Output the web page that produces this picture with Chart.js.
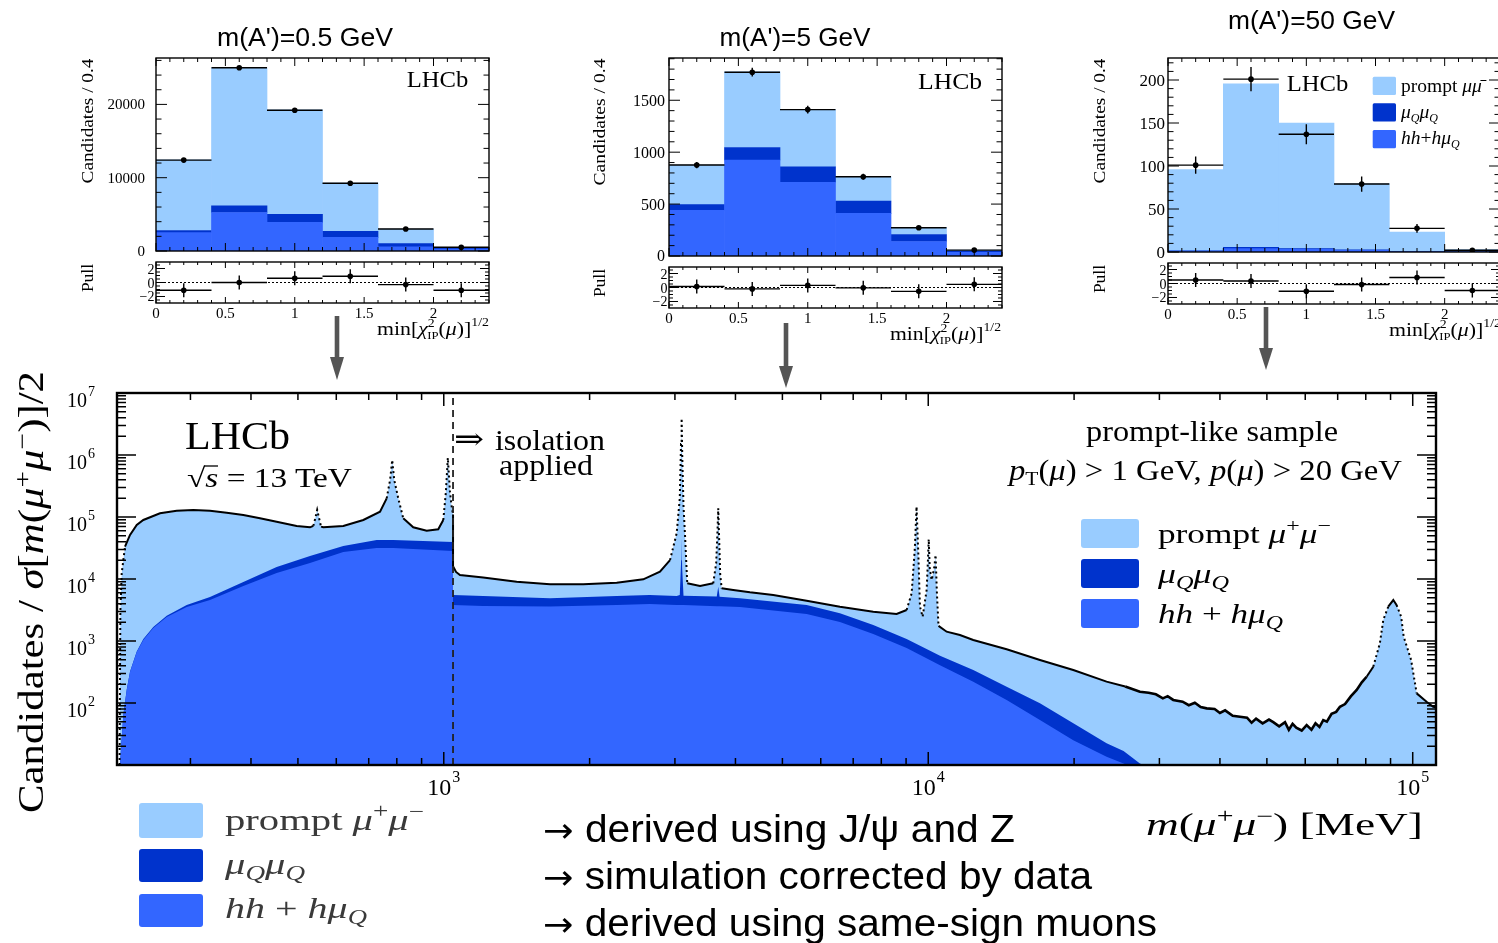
<!DOCTYPE html>
<html>
<head>
<meta charset="utf-8">
<script src="https://cdn.jsdelivr.net/npm/chart.js@4.4.1/dist/chart.umd.min.js"></script>
<style>
html,body{margin:0;padding:0;background:#fff;}
body{position:relative;width:1498px;height:943px;overflow:hidden;}
canvas{position:absolute;}
#ov{position:absolute;left:0;top:0;z-index:5;}
</style>
</head>
<body>
<svg id="ov" width="1498" height="943" xmlns="http://www.w3.org/2000/svg" font-family="Liberation Serif, DejaVu Serif, serif" fill="#000">
  <!-- panel titles -->
  <g font-family="Liberation Sans, Arial, sans-serif" font-size="25" text-anchor="middle">
    <text x="305" y="46" textLength="176" lengthAdjust="spacingAndGlyphs">m(A')=0.5 GeV</text>
    <text x="795" y="46" textLength="151" lengthAdjust="spacingAndGlyphs">m(A')=5 GeV</text>
    <text x="1311.5" y="29" textLength="167" lengthAdjust="spacingAndGlyphs">m(A')=50 GeV</text>
  </g>
  <!-- LHCb labels in panels -->
  <text x="406.7" y="86.7" font-size="24" textLength="61.5" lengthAdjust="spacingAndGlyphs">LHCb</text>
  <text x="918" y="89" font-size="24" textLength="64" lengthAdjust="spacingAndGlyphs">LHCb</text>
  <text x="1286.7" y="90.7" font-size="24" textLength="61.6" lengthAdjust="spacingAndGlyphs">LHCb</text>
  <!-- panel y titles -->
  <g font-size="17.5" text-anchor="middle">
    <text transform="translate(93,121) rotate(-90)" textLength="125" lengthAdjust="spacingAndGlyphs">Candidates / 0.4</text>
    <text transform="translate(605,122) rotate(-90)" textLength="127" lengthAdjust="spacingAndGlyphs">Candidates / 0.4</text>
    <text transform="translate(1105,121) rotate(-90)" textLength="125" lengthAdjust="spacingAndGlyphs">Candidates / 0.4</text>
    <text transform="translate(93,278) rotate(-90)">Pull</text>
    <text transform="translate(605,283) rotate(-90)">Pull</text>
    <text transform="translate(1105,279) rotate(-90)">Pull</text>
  </g>
  <!-- panel x titles -->
  <g font-size="19">
    <text x="377" y="335" textLength="112" lengthAdjust="spacingAndGlyphs">min[<tspan font-style="italic">χ</tspan><tspan font-size="12" dy="-8">2</tspan><tspan font-size="11" dx="-6.5" dy="12">IP</tspan><tspan dy="-4">(</tspan><tspan font-style="italic">μ</tspan>)]<tspan font-size="12" dy="-9">1/2</tspan></text>
    <text x="890" y="340" textLength="111" lengthAdjust="spacingAndGlyphs">min[<tspan font-style="italic">χ</tspan><tspan font-size="12" dy="-8">2</tspan><tspan font-size="11" dx="-6.5" dy="12">IP</tspan><tspan dy="-4">(</tspan><tspan font-style="italic">μ</tspan>)]<tspan font-size="12" dy="-9">1/2</tspan></text>
    <text x="1389" y="336" textLength="112" lengthAdjust="spacingAndGlyphs">min[<tspan font-style="italic">χ</tspan><tspan font-size="12" dy="-8">2</tspan><tspan font-size="11" dx="-6.5" dy="12">IP</tspan><tspan dy="-4">(</tspan><tspan font-style="italic">μ</tspan>)]<tspan font-size="12" dy="-9">1/2</tspan></text>
  </g>
  <!-- panel 3 legend -->
  <rect x="1372.7" y="76.7" width="23.3" height="18.3" rx="1.5" fill="#99ccff"/>
  <rect x="1372.7" y="103.3" width="23.3" height="18.3" rx="1.5" fill="#0033cc"/>
  <rect x="1372.7" y="130" width="23.3" height="18.3" rx="1.5" fill="#3366ff"/>
  <g font-size="19.5">
    <text x="1401" y="92">prompt <tspan font-style="italic">μμ̄</tspan></text>
    <text x="1401" y="118"><tspan font-style="italic">μ</tspan><tspan font-style="italic" font-size="12" dy="4">Q</tspan><tspan font-style="italic" dy="-4">μ</tspan><tspan font-style="italic" font-size="12" dy="4">Q</tspan></text>
    <text x="1401" y="144"><tspan font-style="italic">hh</tspan>+<tspan font-style="italic">hμ</tspan><tspan font-style="italic" font-size="12" dy="4">Q</tspan></text>
  </g>
  <!-- arrows -->
  <g fill="#555">
    <rect x="334.7" y="316" width="4.6" height="42"/><polygon points="330,357 344,357 337,380"/>
    <rect x="783.7" y="323" width="4.6" height="44"/><polygon points="779,366 793,366 786,388"/>
    <rect x="1263.7" y="307" width="4.6" height="42"/><polygon points="1259,348 1273,348 1266,370"/>
  </g>
  <!-- main plot texts -->
  <text x="185" y="449" font-size="40" textLength="105" lengthAdjust="spacingAndGlyphs">LHCb</text>
  <text x="187" y="487" font-size="27" textLength="165" lengthAdjust="spacingAndGlyphs">√<tspan font-style="italic">s</tspan> = 13 TeV</text>
  <line x1="204" y1="466" x2="218" y2="466" stroke="#000" stroke-width="1.3"/>
  <text x="454" y="449" font-size="30" font-family="DejaVu Serif, serif" textLength="30" lengthAdjust="spacingAndGlyphs">⇒</text>
  <text x="495" y="450" font-size="30" textLength="110" lengthAdjust="spacingAndGlyphs">isolation</text>
  <text x="499" y="475" font-size="30" textLength="94" lengthAdjust="spacingAndGlyphs">applied</text>
  <text x="1086" y="441" font-size="29" textLength="252" lengthAdjust="spacingAndGlyphs">prompt-like sample</text>
  <text x="1009" y="480" font-size="29" textLength="393" lengthAdjust="spacingAndGlyphs"><tspan font-style="italic">p</tspan><tspan font-size="19" dy="5">T</tspan><tspan dy="-5">(</tspan><tspan font-style="italic">μ</tspan>) &gt; 1 GeV, <tspan font-style="italic">p</tspan>(<tspan font-style="italic">μ</tspan>) &gt; 20 GeV</text>
  <!-- main legend -->
  <rect x="1081" y="519" width="58" height="29" rx="3" fill="#99ccff"/>
  <rect x="1081" y="559" width="58" height="29" rx="3" fill="#0033cc"/>
  <rect x="1081" y="599" width="58" height="29" rx="3" fill="#3366ff"/>
  <g font-size="28">
    <text x="1158" y="543" textLength="173" lengthAdjust="spacingAndGlyphs">prompt <tspan font-style="italic">μ</tspan><tspan font-size="19" dy="-11">+</tspan><tspan font-style="italic" dy="11">μ</tspan><tspan font-size="19" dy="-11">−</tspan></text>
    <text x="1158" y="583" textLength="71" lengthAdjust="spacingAndGlyphs"><tspan font-style="italic">μ</tspan><tspan font-style="italic" font-size="19" dy="6">Q</tspan><tspan font-style="italic" dy="-6">μ</tspan><tspan font-style="italic" font-size="19" dy="6">Q</tspan></text>
    <text x="1158" y="623" textLength="125" lengthAdjust="spacingAndGlyphs"><tspan font-style="italic">hh</tspan> + <tspan font-style="italic">hμ</tspan><tspan font-style="italic" font-size="19" dy="6">Q</tspan></text>
  </g>
  <!-- main axis titles -->
  <text transform="translate(43,592) rotate(-90)" text-anchor="middle" font-size="35" textLength="442" lengthAdjust="spacingAndGlyphs">Candidates / <tspan font-style="italic">σ</tspan>[<tspan font-style="italic">m</tspan>(<tspan font-style="italic">μ</tspan><tspan font-size="24" dy="-13">+</tspan><tspan font-style="italic" dy="13">μ</tspan><tspan font-size="24" dy="-13">−</tspan><tspan dy="13">)]/2</tspan></text>
  <text x="1146" y="835" font-size="32" textLength="277" lengthAdjust="spacingAndGlyphs"><tspan font-style="italic">m</tspan>(<tspan font-style="italic">μ</tspan><tspan font-size="21" dy="-12">+</tspan><tspan font-style="italic" dy="12">μ</tspan><tspan font-size="21" dy="-12">−</tspan><tspan dy="12">)  [MeV]</tspan></text>
  <!-- bottom legend -->
  <rect x="139" y="803" width="64" height="35" rx="3" fill="#99ccff"/>
  <rect x="139" y="849" width="64" height="33" rx="3" fill="#0033cc"/>
  <rect x="139" y="894" width="64" height="33" rx="3" fill="#3366ff"/>
  <g font-size="30" fill="#3a3a3a">
    <text x="225" y="830" textLength="199" lengthAdjust="spacingAndGlyphs">prompt <tspan font-style="italic">μ</tspan><tspan font-size="20" dy="-12">+</tspan><tspan font-style="italic" dy="12">μ</tspan><tspan font-size="20" dy="-12">−</tspan></text>
    <text x="225" y="874" textLength="80" lengthAdjust="spacingAndGlyphs"><tspan font-style="italic">μ</tspan><tspan font-style="italic" font-size="20" dy="6">Q</tspan><tspan font-style="italic" dy="-6">μ</tspan><tspan font-style="italic" font-size="20" dy="6">Q</tspan></text>
    <text x="225" y="918" textLength="142" lengthAdjust="spacingAndGlyphs"><tspan font-style="italic">hh</tspan> + <tspan font-style="italic">hμ</tspan><tspan font-style="italic" font-size="20" dy="6">Q</tspan></text>
  </g>
  <!-- annotations -->
  <g font-family="Liberation Sans, Arial, sans-serif" font-size="38">
    <text x="543" y="842" textLength="472" lengthAdjust="spacingAndGlyphs"><tspan font-family="DejaVu Sans, sans-serif" font-size="34">→</tspan> derived using J/ψ and Z</text>
    <text x="543" y="889" textLength="549" lengthAdjust="spacingAndGlyphs"><tspan font-family="DejaVu Sans, sans-serif" font-size="34">→</tspan> simulation corrected by data</text>
    <text x="543" y="936" textLength="614" lengthAdjust="spacingAndGlyphs"><tspan font-family="DejaVu Sans, sans-serif" font-size="34">→</tspan> derived using same-sign muons</text>
  </g>
</svg>
<script>
// ================= DATA =================
// top panels: bins of min[chi2_IP(mu)]^1/2, width 0.4
const binCenters = [0.2, 0.6, 1.0, 1.4, 1.8, 2.2];
const binHalfWidth = 0.2;

// m(A') = 0.5 GeV
const p05_hh     = [2500, 5250, 3900, 1850, 560, 250];
const p05_muQ    = [300, 900, 1100, 850, 450, 100];
const p05_prompt = [9650, 18850, 14250, 6550, 1990, 150];
const p05_data   = [12400, 25000, 19200, 9250, 3000, 520];
const p05_err    = [111, 158, 139, 96, 55, 23];
const p05_pull   = [-1.1, 0.0, 0.6, 0.9, -0.3, -1.1];

// m(A') = 5 GeV
const p5_hh     = [440, 925, 710, 410, 140, 35];
const p5_muQ    = [55, 120, 150, 120, 67, 12];
const p5_prompt = [380, 730, 550, 235, 68, 10];
const p5_data   = [876, 1770, 1410, 763, 272, 57];
const p5_err    = [30, 42, 38, 28, 16, 7.5];
const p5_pull   = [0.15, -0.2, 0.3, -0.05, -0.55, 0.45];

// m(A') = 50 GeV
const p50_hh     = [1, 4, 3, 2, 0.5, 0.3];
const p50_muQ    = [0.3, 1.5, 1, 0.5, 0.2, 0.1];
const p50_prompt = [94.4, 190.2, 146, 76.9, 22.6, 2.3];
const p50_data   = [101, 201, 137, 79, 27.5, 2];
const p50_err    = [10, 14.2, 11.7, 8.9, 5.2, 1.4];
const p50_pull   = [0.5, 0.35, -1.1, -0.15, 0.85, -1.0];

// tick labels
const chiTicks = [0, 0.5, 1, 1.5, 2];
const chiTickLabels = ['0', '0.5', '1', '1.5', '2'];
const pullTicks = [-2, 0, 2];
const pullTickLabels = ['\u22122', '0', '2'];
const p05_yTicks = [0, 10000, 20000];
const p5_yTicks = [0, 500, 1000, 1500];
const p50_yTicks = [0, 50, 100, 150, 200];
const massTicks = [1e3, 1e4, 1e5];
const massTickExp = ['3', '4', '5'];
const countTicks = [1e2, 1e3, 1e4, 1e5, 1e6, 1e7];
const countTickExp = ['2', '3', '4', '5', '6', '7'];

// main plot: observed m(mu+mu-) spectrum [MeV, candidates]
const observed = [
  [214.2,10],[215.0,3000],[216.4,12400],[219.8,33200],[225.1,51300],[232.4,74300],[239.8,89500],
  [259.6,115000],[281.0,126000],[304.1,130000],[329.2,126000],[356.4,117000],[385.7,108000],
  [417.5,95200],[451.9,84000],[497.0,71600],[529.5,68200],[538,72000],[543,95000],[547.9,130000],
  [553,95000],[558,70000],[564.1,68200],[620.3,71600],[682.3,89500],[738.6,121600],[762.4,200000],
  [775,400000],[782.7,830000],[790,400000],[805.5,200000],[824.8,95200],[865.0,68200],[922.0,60100],
  [974.1,63400],[997.7,89500],[1010,250000],[1019.5,900000],[1030,250000],[1038.3,147000],[1045,110000],
  [1045,16000],[1060,13000],[1080,11600],[1206,10600],[1414,9040],[1657,8220],[1941,8220],[2275,8720],
  [2581,9880],[2794,13100],[2931,20200],[3025,54600],[3070,200000],[3088,1500000],[3097,3900000],
  [3106,1000000],[3125,150000],[3146,55200],[3181,8530],[3380,7710],[3599,8530],[3650,18000],
  [3673,60000],[3686,138000],[3700,50000],[3720,12000],[3746,7080],[3958,6650],[4285,6100],
  [4787,5520],[5611,4467],[6572,3573],[7700,2970],[8604,2725],[9024,3162],[9241,5880],[9380,30000],
  [9460,146600],[9540,25000],[9614,3573],[9737,2466],[9924,6650],[9985,20000],[10023,43600],
  [10070,15000],[10163,9630],[10290,15000],[10355,24400],[10420,6000],[10500,1750],[10914,1413],
  [11626,1250],[12386,1038],[14516,734],[17004,494],[19925,340],[23340,221],[25500,185],[27350,152],
  [28500,146],[29500,138],[30500,119],[31200,129],[32040,112],[33500,105],[34500,92],[35500,101],
  [36500,86],[37560,82],[39000,80],[40000,69],[41000,76],[42500,62],[44000,60],[45500,58],[46500,48],
  [47500,56],[49000,47],[50500,54],[51540,49],[53000,42],[54500,49],[55500,37],[56500,46],[57500,40],
  [59000,36],[60400,44],[61800,37],[63000,47],[64200,41],[65360,53],[66500,50],[68000,67],[69500,72],
  [70760,87],[72500,96],[74500,128],[76620,162],[78500,215],[80320,265],
  [82900,385],[85540,918],[86940,2180],[89010,3573],[91188,4580],[92600,3810],[94650,2470],
  [95800,1172],[99240,494],[101900,143],[106800,105],[110200,87],[111700,85]
];
// background components on a common mass grid [MeV]
const bkgMass = [212, 214.7, 216.2, 218.1, 221.6, 225.1, 232.4, 239.8, 251.4, 268.0,
  294.7, 329.2, 385.7, 451.9, 529.5, 620.3, 726.9, 786.8, 1045, 1045,
  1206, 1657, 2275, 2660, 3025, 3070, 3090, 3097, 3105, 3125,
  3660, 3686, 3710, 4087, 5611, 6572, 7700, 9024, 10575, 12386,
  14516, 17004, 19925, 23340, 25300, 27350, 30200, 35000];
const hhCounts = [1, 10, 25, 64, 162, 316, 665, 1040, 1620, 2440,
  3530, 4580, 7710, 12500, 18100, 27200, 31600, 31600, 28300, 3810,
  3670, 3600, 3810, 3950, 3810, 3810, 3800, 3800, 3800, 3790,
  3650, 3640, 3630, 3530, 2725, 2020, 1300, 771, 405, 221,
  112, 53, 25, 13.6, 10.6, 8, 5, 2];
const muQCounts = [0, 0.3, 0.5, 1, 3, 6, 12, 40, 60, 120,
  280, 540, 1230, 3140, 5360, 6840, 10960, 10960, 11210, 1710,
  1650, 1300, 1510, 1570, 1510, 1690, 16190, 44190, 11190, 1590,
  1550, 3850, 1560, 1370, 1083, 793, 513, 306, 175, 119,
  71, 46, 22, 8.8, 6.2, 2.6, 2.5, 1];
const isolationCut = 1045; // MeV

// ================= STYLE =================
const C_LIGHT = '#99ccff', C_DARK = '#0033cc', C_MED = '#3366ff';
const SERIF = "'Liberation Serif','DejaVu Serif',serif";

function minorRange(lo, hi, step, skip) {
  const out = [];
  const n = Math.round((hi - lo) / step);
  for (let i = 0; i <= n; i++) {
    const v = +(lo + i * step).toFixed(6);
    if (!skip.some(s => Math.abs(s - v) < 1e-9)) out.push(v);
  }
  return out;
}
function logMinor(lo, hi) {
  const out = [];
  for (let e = Math.floor(Math.log10(lo)); e <= Math.ceil(Math.log10(hi)); e++)
    for (let k = 2; k <= 9; k++) { const v = k * Math.pow(10, e); if (v >= lo && v <= hi) out.push(v); }
  return out;
}

const errPlugin = {
  id: 'errBars',
  afterDatasetsDraw(chart) {
    const {ctx} = chart; const sx = chart.scales.x, sy = chart.scales.y;
    chart.data.datasets.forEach((ds) => {
      if (!ds.errY) return;
      ctx.save();
      ctx.strokeStyle = '#000'; ctx.lineWidth = ds.errWidth || 1.4;
      ctx.beginPath();
      ds.data.forEach((pt, j) => {
        const px = sx.getPixelForValue(pt.x), py = sy.getPixelForValue(pt.y);
        const xl = sx.getPixelForValue(pt.x - ds.errX), xr = sx.getPixelForValue(pt.x + ds.errX);
        const yt = sy.getPixelForValue(pt.y + ds.errY[j]), yb = sy.getPixelForValue(pt.y - ds.errY[j]);
        ctx.moveTo(xl, py); ctx.lineTo(xr, py);
        ctx.moveTo(px, yt); ctx.lineTo(px, yb);
      });
      ctx.stroke();
      ctx.restore();
    });
  }
};

const framePlugin = {
  id: 'frameTicks',
  afterDatasetsDraw(chart, args, o) {
    if (!o || !o.enabled) return;
    const {ctx, chartArea: a} = chart;
    ctx.save();
    ctx.strokeStyle = '#000'; ctx.fillStyle = '#000';
    const doAxis = (ax, scale, horiz) => {
      if (!ax) return;
      ctx.lineWidth = ax.tickWidth || 1;
      const list = ax.major.map(v => [v, ax.majorLen]).concat((ax.minor || []).map(v => [v, ax.minorLen]));
      ctx.beginPath();
      for (const [v, len] of list) {
        const p = scale.getPixelForValue(v);
        if (horiz) {
          if (p < a.left - 0.5 || p > a.right + 0.5) continue;
          ctx.moveTo(p, a.bottom); ctx.lineTo(p, a.bottom - len);
          ctx.moveTo(p, a.top); ctx.lineTo(p, a.top + len);
        } else {
          if (p < a.top - 0.5 || p > a.bottom + 0.5) continue;
          ctx.moveTo(a.left, p); ctx.lineTo(a.left + len, p);
          ctx.moveTo(a.right, p); ctx.lineTo(a.right - len, p);
        }
      }
      ctx.stroke();
      if (ax.labels) {
        ctx.textBaseline = 'alphabetic'; ctx.textAlign = 'left';
        for (const lb of ax.labels) {
          const p = scale.getPixelForValue(lb.v);
          ctx.font = ax.font;
          const w1 = ctx.measureText(lb.t).width;
          let w2 = 0;
          if (lb.s) { ctx.font = ax.supFont; w2 = ctx.measureText(lb.s).width + 1; }
          const tw = w1 + w2;
          let x0, y0;
          if (horiz) { x0 = p - tw / 2 + (ax.dx || 0); y0 = a.bottom + ax.dy; }
          else { x0 = a.left - ax.off - tw; y0 = p + ax.dy; }
          ctx.font = ax.font; ctx.fillText(lb.t, x0, y0);
          if (lb.s) { ctx.font = ax.supFont; ctx.fillText(lb.s, x0 + w1 + 1, y0 - ax.supRaise); }
        }
      }
    };
    doAxis(o.x, chart.scales.x, true);
    doAxis(o.y, chart.scales.y, false);
    ctx.lineWidth = o.frameWidth || 1.5;
    ctx.strokeRect(a.left, a.top, a.right - a.left, a.bottom - a.top);
    ctx.restore();
  }
};

const M = 70;
function mkCanvas(r) {
  const L = Math.round(r.L), T = Math.round(r.T), R = Math.round(r.R), B = Math.round(r.B);
  const c = document.createElement('canvas');
  const w = R - L + 2 * M, h = B - T + 2 * M;
  c.width = w; c.height = h;
  c.style.left = (L - M) + 'px'; c.style.top = (T - M) + 'px';
  c.style.width = w + 'px'; c.style.height = h + 'px';
  document.body.insertBefore(c, document.getElementById('ov'));
  return c;
}
const baseOpts = () => ({
  responsive: false, animation: false, events: [],
  layout: {padding: M},
  plugins: {legend: {display: false}, tooltip: {enabled: false}, title: {display: false}}
});
const pts = arr => binCenters.map((x, i) => ({x, y: arr[i]}));

function histPanel(area, p) {
  const opts = baseOpts();
  opts.scales = {
    x: {type: 'linear', min: 0, max: 2.4, offset: false, stacked: true, display: false},
    y: {type: 'linear', min: 0, max: p.yMax, stacked: true, display: false}
  };
  opts.plugins.frameTicks = {
    enabled: true, frameWidth: 1.4,
    x: {major: chiTicks, minor: minorRange(0, 2.4, 0.1, chiTicks), majorLen: 8, minorLen: 4},
    y: {major: p.yTicks, minor: minorRange(0, p.yMinorMax, p.yMinorStep, p.yTicks), majorLen: 11, minorLen: 5.5,
        labels: p.yTicks.map(v => ({v, t: String(v)})), font: p.font + 'px ' + SERIF, off: p.off, dy: p.font * 0.34}
  };
  const bar = (label, arr, color) => ({label, data: pts(arr), backgroundColor: color, stack: 'bg',
    barPercentage: 1, categoryPercentage: 1, borderWidth: 0});
  return new Chart(mkCanvas(area), {
    type: 'bar',
    data: {datasets: [
      {type: 'scatter', label: 'Data', data: pts(p.data), stack: 'data', errY: p.err, errX: binHalfWidth,
       pointRadius: 2.8, pointBackgroundColor: '#000', pointBorderWidth: 0},
      bar('hh + hμQ', p.hh, C_MED),
      bar('μQμQ', p.muQ, C_DARK),
      bar('prompt μμ', p.prompt, C_LIGHT)
    ]},
    options: opts,
    plugins: [errPlugin, framePlugin]
  });
}

function pullPanel(area, pull) {
  const opts = baseOpts();
  opts.scales = {
    x: {type: 'linear', min: 0, max: 2.4, display: false},
    y: {type: 'linear', min: -2.93, max: 2.93, display: false}
  };
  opts.plugins.frameTicks = {
    enabled: true, frameWidth: 1.4,
    x: {major: chiTicks, minor: minorRange(0, 2.4, 0.1, chiTicks), majorLen: 6, minorLen: 3,
        labels: chiTicks.map((v, i) => ({v, t: chiTickLabels[i]})), font: '15px ' + SERIF, dy: 15},
    y: {major: pullTicks, minor: minorRange(-2.5, 2.5, 0.5, pullTicks), majorLen: 9, minorLen: 4,
        labels: pullTicks.map((v, i) => ({v, t: pullTickLabels[i]})), font: '14px ' + SERIF, off: 1.5, dy: 5}
  };
  return new Chart(mkCanvas(area), {
    type: 'scatter',
    data: {datasets: [
      {label: 'Pull', data: pts(pull), errY: pull.map(() => 1), errX: binHalfWidth,
       pointRadius: 2.8, pointBackgroundColor: '#000', pointBorderWidth: 0},
      {type: 'line', label: 'zero', data: [{x: 0, y: 0}, {x: 2.4, y: 0}], borderColor: '#000',
       borderWidth: 1, borderDash: [2, 2], pointRadius: 0, fill: false}
    ]},
    options: opts,
    plugins: [errPlugin, framePlugin]
  });
}

// ---- top panels ----
histPanel({L: 156, T: 58, R: 489, B: 251}, {yMax: 26330, yTicks: p05_yTicks, yMinorStep: 2000, yMinorMax: 26000,
  font: 15, off: 11, hh: p05_hh, muQ: p05_muQ, prompt: p05_prompt, data: p05_data, err: p05_err});
pullPanel({L: 156, T: 262, R: 489, B: 303}, p05_pull);

histPanel({L: 669, T: 58, R: 1002, B: 256}, {yMax: 1907, yTicks: p5_yTicks, yMinorStep: 100, yMinorMax: 1900,
  font: 16, off: 4, hh: p5_hh, muQ: p5_muQ, prompt: p5_prompt, data: p5_data, err: p5_err});
pullPanel({L: 669, T: 267, R: 1002, B: 308}, p5_pull);

histPanel({L: 1168, T: 58, R: 1500, B: 252}, {yMax: 225.6, yTicks: p50_yTicks, yMinorStep: 10, yMinorMax: 220,
  font: 17, off: 3, hh: p50_hh, muQ: p50_muQ, prompt: p50_prompt, data: p50_data, err: p50_err});
pullPanel({L: 1168, T: 263, R: 1500, B: 304}, p50_pull);

// ---- main mass spectrum ----
(function () {
  const totalPts = observed.map(([m, v]) => ({x: m, y: v}));
  const hhPts = bkgMass.map((m, i) => ({x: m, y: hhCounts[i]}));
  const cumPts = bkgMass.map((m, i) => ({x: m, y: hhCounts[i] + muQCounts[i]}));
  const opts = baseOpts();
  opts.scales = {
    x: {type: 'logarithmic', min: 211.6, max: 111700, display: false},
    y: {type: 'logarithmic', min: 10, max: 1e7, display: false}
  };
  opts.elements = {line: {tension: 0}, point: {radius: 0}};
  opts.plugins.frameTicks = {
    enabled: true, frameWidth: 2.4,
    x: {major: massTicks, minor: logMinor(211.6, 111700), majorLen: 13, minorLen: 7, tickWidth: 1.5,
        labels: massTicks.map((v, i) => ({v, t: '10', s: massTickExp[i]})),
        font: '24px ' + SERIF, supFont: '16px ' + SERIF, dy: 30, supRaise: 13},
    y: {major: [10].concat(countTicks), minor: logMinor(10, 1e7), majorLen: 19, minorLen: 9, tickWidth: 1.5,
        labels: countTicks.map((v, i) => ({v, t: '10', s: countTickExp[i]})),
        font: '20px ' + SERIF, supFont: '14px ' + SERIF, off: 22, dy: 14, supRaise: 11}
  };
  const steep = ctx => {
    const dx = Math.abs(ctx.p1.x - ctx.p0.x), dy = Math.abs(ctx.p1.y - ctx.p0.y);
    return (dy > 3 * Math.max(dx, 0.5) && dx > 0.01 && ctx.p0.parsed.x < 85000 || (ctx.p0.parsed.x > 80000 && dy > 2.2 * dx)) ? [2, 3] : undefined;
  };
  const noisyWidth = ctx => (ctx.p0.parsed.x > 25000 && ctx.p0.parsed.x < 80000) ? 2.6 : 2;
  new Chart(mkCanvas({L: 117, T: 393, R: 1436, B: 765}), {
    type: 'line',
    data: {datasets: [
      {label: 'isolation cut', data: [{x: isolationCut, y: 10}, {x: isolationCut, y: 1e7}],
       borderColor: '#222', borderWidth: 1.8, borderDash: [7, 5], pointRadius: 0, fill: false},
      {label: 'data', data: totalPts, borderColor: '#000', borderWidth: 2, pointRadius: 0, fill: false,
       segment: {borderDash: steep, borderWidth: noisyWidth}},
      {label: 'hh + hμQ', data: hhPts, borderWidth: 0, borderColor: 'rgba(0,0,0,0)', backgroundColor: C_MED, fill: 'start', pointRadius: 0},
      {label: 'μQμQ', data: cumPts, borderWidth: 0, borderColor: 'rgba(0,0,0,0)', backgroundColor: C_DARK, fill: 'start', pointRadius: 0},
      {label: 'prompt μ+μ−', data: totalPts, borderWidth: 0, borderColor: 'rgba(0,0,0,0)', backgroundColor: C_LIGHT, fill: 'start', pointRadius: 0}
    ]},
    options: opts,
    plugins: [framePlugin]
  });
})();
</script>
</body>
</html>
